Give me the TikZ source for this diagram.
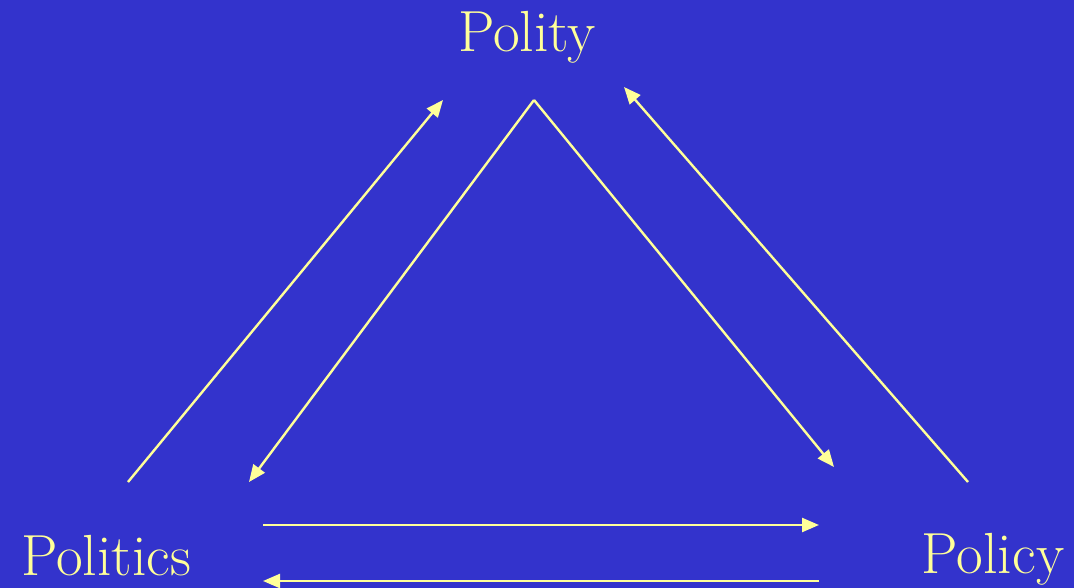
\documentclass[tikz,border=0pt]{standalone}
\usepackage{fontspec}
\usetikzlibrary{arrows.meta}
\definecolor{slidebg}{HTML}{3333CC}
\definecolor{slidefg}{HTML}{FFFF99}
\tikzset{
  term/.style={text=slidefg,font=\fontsize{58}{58}\selectfont,inner sep=0pt,anchor=base},
  arr/.style={-{Triangle[length=17pt,width=14pt]},draw=slidefg,fill=slidefg,line width=2.4pt}
}
\begin{document}
\begin{tikzpicture}[x=1pt,y=-1pt]
  \fill[slidebg] (0,0) rectangle (1074,588);
  \useasboundingbox (0,0) rectangle (1074,588);
  % Terms
  \node[term] (polity) at (527,52) {Polity};
  \node[term] (politics) at (106,575) {Politics};
  \node[term] (policy) at (993,573) {Policy};

  % Arrow end points
  \coordinate (apex) at (534,100);
  \coordinate (lup0) at (128,482);
  \coordinate (lup1) at (443,100);
  \coordinate (ldn) at (249,482);
  \coordinate (rdn) at (834,467);
  \coordinate (rup0) at (968,482);
  \coordinate (rup1) at (624,87);
  \coordinate (top0) at (263,525);
  \coordinate (top1) at (819,525);
  \coordinate (bot0) at (819,581);
  \coordinate (bot1) at (263,581);

  % Connectors
  \draw[arr] (lup0) -- (lup1);
  \draw[arr] (apex) -- (ldn);
  \draw[arr] (apex) -- (rdn);
  \draw[arr] (rup0) -- (rup1);
  \draw[arr] (top0) -- (top1);
  \draw[arr] (bot0) -- (bot1);
\end{tikzpicture}
\end{document}
